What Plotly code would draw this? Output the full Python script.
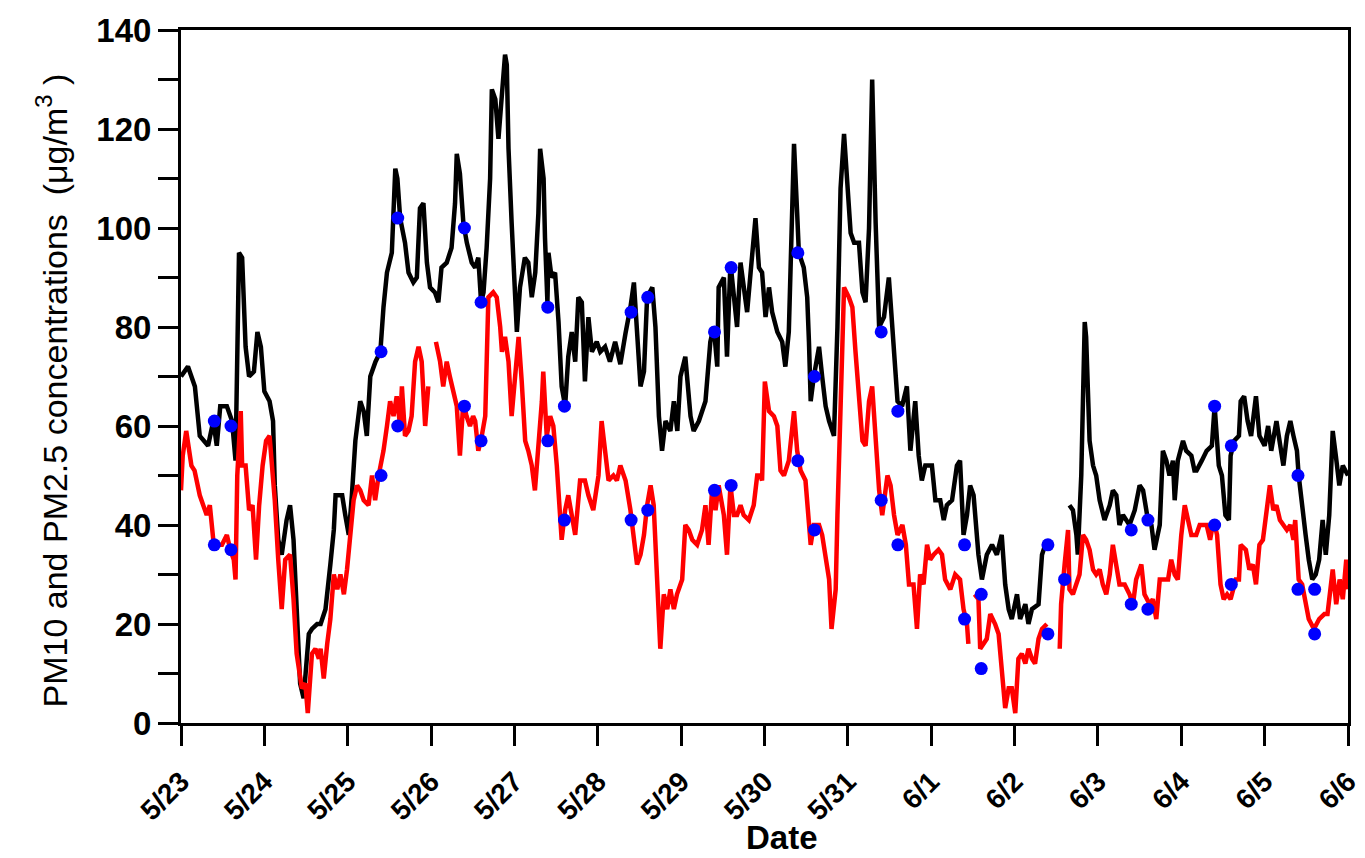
import plotly.graph_objects as go

# ---------------- data ----------------
tick_labels = ["5/23", "5/24", "5/25", "5/26", "5/27", "5/28", "5/29", "5/30",
               "5/31", "6/1", "6/2", "6/3", "6/4", "6/5", "6/6"]

# PM10 (hours since 5/23 00:00, value)
pm10_hours = [0, 2, 4, 5.4, 7.8, 9.3, 10.3, 11.3, 13.2, 14.7, 15.7, 16.2, 16.7, 17.6, 18.1, 18.6,
              19.6, 21, 22, 23, 24, 25.5, 26.5, 27, 28, 29, 30.4, 31.4, 32.4, 33.3, 34.3, 35.3,
              36.8, 37.7, 39.2, 40.2, 41.6, 43, 44, 44.5, 45.4, 46.4, 47.3, 48.3, 49.2, 50.2,
              51.6, 52.6, 53.5, 54.5, 56, 57.4, 58.3, 59.3, 60.7, 61.7, 62.3, 63.1, 64.5, 65.5,
              66.9, 67.9, 68.8, 69.8, 70.8, 71.7, 73.1, 74.1, 75, 76.5, 77.9, 78.9, 79.4, 80.3,
              81.3, 82.3, 83.7, 84.7, 85.6, 86.4, 87.1, 88, 89, 89.5, 90.5, 91.4, 92.4, 93.3,
              93.8, 94.3, 95.2, 96.2, 96.7, 97.6, 99, 100, 101, 102, 102.9, 103.4, 104.4, 104.8,
              105.5, 105.8, 106.7, 107.7, 108.7, 109.6, 110.6, 111.5, 112.5, 113.5, 114.4, 115.4,
              116.3, 117.3, 118.3, 119.7, 120.7, 122.1, 123.5, 125, 126.5, 128, 129.4, 130.4,
              131.3, 132.3, 133.3, 134.2, 135.7, 136.6, 137.6, 138.5, 139.5, 140.9, 141.9, 142.9,
              143.8, 145.2, 146.7, 147.6, 149.1, 151, 152.4, 153.4, 154.4, 154.8, 156.3, 157.2,
              158.2, 159.1, 160.1, 161.1, 162, 163, 164, 165.4, 166.4, 167.3, 168.3, 169.3,
              170.2, 171.7, 173.1, 174, 175, 176, 176.5, 177.4, 177.9, 179.3, 180.3, 180.8,
              181.3, 182.2, 183.7, 184.6, 185.6, 186.6, 188, 189, 189.9, 190.9, 191.8, 192.8,
              193.8, 195.2, 196.2, 197.1, 198.1, 199, 200, 201, 202.4, 203.8, 204.8, 206.3,
              207.6, 209, 210, 211.4, 212.4, 213.3, 214.3, 216.2, 217.2, 218.6, 219.6, 220.5,
              222, 223.4, 224.3, 225.3, 226.3, 227.2, 228.2, 229.6, 230.6, 232, 233.5, 234.9,
              236.3, 237.3, 238.3, 239.2, 240.7, 241.6, 243.1, 244, 245, 246.9, 247.9, 249.3,
              252, 255.8, 256.8, 257.8, 258.2, 259.2, 259.7, 260.2, 260.6, 261.1, 261.6, 262.6,
              263.5, 264.5, 265.9, 267.4, 268.3, 269.3, 270.2, 271.2, 273.1, 274.6, 276, 277,
              278.4, 279.4, 280.3, 281.8, 282.7, 283.7, 284.6, 285.6, 286.1, 287, 288.5, 289.4,
              290.9, 291.8, 292.4, 293.9, 295.3, 296.8, 297.6, 298.8, 299.7, 300.7, 301.7, 302.2,
              303.2, 304.6, 305.1, 306.1, 307.1, 308.1, 309.5, 310.5, 312, 313, 313.9, 315.4,
              316.4, 317.4, 318.4, 319.4, 320.3, 321.3, 321.8, 322.8, 323.8, 324.7, 325.7, 326.7,
              327.7, 328.7, 329.6, 330.6, 331.6, 332.5, 333.5, 334.5, 336]
pm10_values = [70, 72, 68, 58, 56, 61, 56, 64, 64, 61, 53, 76, 95, 94, 83, 76,
               70, 71, 79, 76, 67, 65, 61, 48, 37, 34, 41, 44, 37, 23, 8, 5,
               18, 19, 20, 20, 23, 32, 39, 46, 46, 46, 42, 38, 46, 57,
               65, 63, 58, 70, 73, 75, 84, 91, 95, 112, 110, 102, 97, 91,
               89, 90, 104, 105, 93, 88, 87, 85, 92, 93, 96, 105, 115, 111,
               101, 97, 93, 92, 94, 85, 87, 96, 110, 128, 126, 118, 127, 135,
               133, 116, 101, 83, 79, 88, 94, 93, 86, 91, 103, 116, 110, 98,
               85, 95, 90, 91, 81, 68, 64, 74, 79, 73, 86, 85,
               69, 82, 75, 77, 75, 76, 73, 77, 72.5, 78.8, 84, 89,
               79, 68, 71, 86, 88, 80, 62, 55, 61, 59, 65, 59,
               70, 74, 62, 59, 61, 65, 77, 80, 72, 88, 90, 74,
               93, 86, 80, 93, 88, 83, 91, 102, 92, 91, 82, 88,
               83, 79, 77, 72, 79, 103, 117, 103, 95, 92, 86, 77,
               65, 70, 76, 70, 64, 61, 58, 80, 108, 119, 108, 99,
               97, 97, 87, 85, 100, 130, 101, 80, 82, 90, 80, 65,
               64, 68, 55, 65, 54, 49, 52, 52, 45, 45, 41, 44,
               45, 52, 53, 38, 42, 48, 46, 34, 29, 34, 36, 34,
               38, 28, 23, 21, 26, 21, 24, 20, 23, 24, 34, 37,
               None, 44, 43, 38, 34, 50, 64, 81, 78, 63, 57, 52,
               50, 45, 41, 44, 47, 46, 40, 42, 40, 43, 48, 47,
               41, 40, 35, 40, 55, 53, 50, 53, 45, 53, 57, 55,
               54, 51, 51, 53, 55, 56, 64, 52, 50, 42, 41, 54,
               57, 58, 65, 66, 61, 58, 66, 58, 56, 60, 55, 61,
               57, 52, 58, 61, 58, 55, 50, 43, 38, 33, 29, 30,
               33, 41, 34, 42, 59, 54, 48, 52, 50]

# PM2.5 (hours since 5/23 00:00, value)
pm25_hours = [0, 0.5, 1.5, 2, 3, 3.9, 5.4, 6.4, 7.4, 8.3, 9.3, 10.3, 11.8, 13.2, 14.2, 15.2,
              15.7, 16.2, 17.2, 17.6, 18.6, 19.6, 20.6, 21.6, 22.5, 23.5, 24.5, 25.5, 26.5, 27,
              28, 29, 30, 31.4, 32.4, 33.3, 34.8, 35.8, 36.5, 37.7, 38.7, 39.7, 40.2, 41.1, 42.1,
              43, 44, 45, 45.9, 46.9, 47.8, 48.8, 49.7, 50.7, 51.6, 52.6, 54, 55, 55.9, 56.9,
              58.3, 59.3, 60.2, 61.2, 62.1, 63.1, 63.6, 64.5, 65.5, 66.4, 67.4, 68.4, 69.3, 70.3,
              71.2, 72.3, 73.4, 74.6, 75.5, 76.5, 77.4, 78.4, 79.4, 80.3, 81.3, 82.2, 83.2, 84.1,
              84.7, 85.6, 86.6, 87.6, 88, 88.5, 89.9, 90.9, 91.9, 92.4, 93.3, 94.3, 95.2, 96.2,
              97.2, 98.1, 99.1, 100, 101, 101.9, 102.9, 103.9, 104.3, 104.8, 105.3, 106.3, 107.2,
              108.2, 109.1, 109.6, 110.6, 111.5, 112.5, 113.5, 114.9, 116.3, 117.3, 118.7, 120.2,
              121.1, 122.1, 123.1, 124.5, 125.5, 126.5, 128, 129.4, 130.4, 131.3, 132.3, 133.3,
              134.2, 135.2, 136.1, 137.1, 138, 139, 140, 140.9, 141.9, 142.8, 144.3, 145.2, 146.2,
              147.2, 148.6, 150, 151, 151.9, 152.9, 153.9, 154.8, 156.3, 157.2, 158.2, 159.2,
              160.1, 161.1, 162, 163.5, 164.9, 165.9, 166.8, 167.3, 168.1, 169.3, 170.7, 171.7,
              172.6, 173.6, 175, 176.5, 177.4, 178.4, 179.8, 180.8, 181.3, 182.2, 183.7, 184.6,
              185.6, 186.6, 187.3, 188.5, 189, 189.9, 190.9, 192.3, 193.3, 194.2, 195.2, 196.2,
              197.1, 198.1, 199, 200, 201, 201.9, 203.4, 204.3, 205.3, 206.3, 207.7, 208.7,
              209.6, 210.9, 211.9, 212.8, 213.8, 214.8, 215.7, 216.7, 218.1, 219.1, 220, 221.5,
              222.9, 224.3, 225.3, 226.3, 226.7, 227.5, 228.5, 229.6, 230.1, 231.1, 232, 233,
              234.4, 235.4, 236.3, 237.3, 238.3, 239.2, 240.2, 241.1, 242.1, 243.1, 244, 245,
              245.9, 246.9, 247.9, 249.3, 251, 253, 253.4, 254.4, 255.4, 255.8, 256.8, 258.7,
              259.7, 260.6, 261.6, 262.6, 263.5, 264.5, 265.4, 266.4, 267.4, 268.3, 269.3, 270.2,
              271.7, 273.1, 274.1, 275, 276.5, 277.4, 278.9, 279.8, 280.8, 281.8, 283.2, 284.2,
              285.1, 286.1, 287, 288, 289, 289.9, 290.9, 292.3, 293.3, 295.3, 296.3, 297.3,
              298.3, 299.3, 300.2, 301.2, 302.2, 303.7, 304.6, 305.1, 306.6, 307.6, 308.6, 309.5,
              310.5, 311.5, 312.5, 313.5, 314.5, 315.4, 316.4, 317.4, 318.4, 319.4, 320.3, 320.8,
              321.8, 322.8, 323.8, 324.7, 326.2, 327.7, 329.2, 330.1, 331.6, 332.6, 333.6, 334.5,
              335.5, 336]
pm25_values = [47, 54, 59, 57, 52, 51, 46, 44, 42, 44, 37, 36, 36, 38, 35, 33,
               29, 50, 63, 52, 52, 43, 44, 33, 44, 52, 57, 58, 50, 45,
               33, 23, 33, 34, 25, 14, 7, 8, 2, 14, 15, 13, 15, 9, 16,
               21, 30, 27, 30, 26, 31, 39, 45, 48, 47, 45, 44, 50, 45, 50,
               55, 60, 65, 62, 66, 60, 68, 58, 59, 62, 73, 76, 73, 60,
               68, None, 77, 73, 68, 73, 70, 67, 64, 54, 65, 62, 60, 62,
               61, 55, 58, 62, 78, 86, 87, 86, 80, 75, 78, 73, 62, 71,
               78, 69, 57, 55, 52, 47, 55, 65, 71, 62, 58, 62, 60,
               52, 42, 37, 43, 46, 42, 38, 49, 49, 46, 43, 50,
               61, 55, 49, 50, 49, 52, 49, 43, 38, 32, 34, 38,
               44, 48, 44, 29, 15, 26, 23, 27, 23, 26, 29, 40, 39,
               37, 36, 39, 44, 36, 47, 43, 48, 42, 34, 48, 42,
               42, 44, 42, 41, 44, 50, 50, 49, 69, 63, 62, 60,
               51, 50, 53, 63, 55, 51, 49, 41, 36, 40, 40, 38,
               33, 29, 19, 27, 42, 62, 88, 86, 84, 75, 65, 57,
               56, 65, 68, 57, 47, 42, 50, 48, 42, 38, 40, 36,
               28, 28, 19, 30, 28, 36, 33, 34, 35, 34, 29, 27,
               30, 29, 23, 20, 16, None, 26, 25, 15, 16, 17, 22,
               20, 18, 11, 3, 7, 7, 2, 13, 14, 12, 15, 13,
               12, 17, 19, 20, None, 15, 24, 32, 39, 27, 26, 30,
               38, 37, 35, 31, 30, 31, 28, 26, 30, 36, 31, 28,
               28, 26, 24, 29, 32, 26, 24, 25, 21, 29, 29, 29,
               33, 30, 29, 38, 44, 41, 38, 38, 40, 40, 37, 41,
               38, 28, 25, 26, 25, 29, 29, 36, 35, 31, 32, 28,
               36, 37, 43, 48, 43, 44, 41, 40, 39, 40, 37, 41,
               29, 28, 24, 21, 19, 21, 22, 22, 31, 24, 29, 25,
               33, 27]

# observation points (days since 5/23 00:00)
obs_days = [0.4, 0.6, 2.4, 2.6, 3.4, 3.6, 4.4, 4.6, 5.4, 5.6, 6.4, 6.6, 7.4, 7.6,
            8.4, 8.6, 9.4, 9.6, 10.4, 10.6, 11.4, 11.6, 12.4, 12.6, 13.4, 13.6]
obs_pm10 = [61, 60, 75, 102, 100, 85, 84, 64, 83, 86, 79, 92, 95, 70,
            79, 63, 36, 26, 36, None, 39, 41, 64, 56, 50, 27]
obs_pm25 = [36, 35, 50, 60, 64, 57, 57, 41, 41, 43, 47, 48, 53, 39,
            45, 36, 21, 11, 18, 29, 24, 23, 40, 28, 27, 18]

x_title = "Date"
y_title = "PM10 and PM2.5 concentrations  (μg/m<sup>3</sup> )"

# ---------------- figure ----------------
FONT = "Liberation Sans, Arial, sans-serif"

fig = go.Figure()
fig.add_trace(go.Scatter(x=[h / 24 for h in pm10_hours], y=pm10_values, mode="lines",
                         line=dict(color="black", width=4.5), connectgaps=False,
                         name="PM10", showlegend=False))
fig.add_trace(go.Scatter(x=[h / 24 for h in pm25_hours], y=pm25_values, mode="lines",
                         line=dict(color="#ff0000", width=4.5), connectgaps=False,
                         name="PM2.5", showlegend=False))
fig.add_trace(go.Scatter(x=obs_days + obs_days, y=obs_pm10 + obs_pm25, mode="markers",
                         marker=dict(color="#0000ff", size=13, line=dict(width=0)),
                         name="obs", showlegend=False))

# the page adds an 8 px body margin, so the figure is sized/offset to compensate
fig.update_layout(
    width=1349, height=842,
    margin=dict(l=173, r=9, t=22, b=127),
    paper_bgcolor="white", plot_bgcolor="white",
    font=dict(family=FONT, color="black"),
    annotations=[
        dict(text=x_title, xref="paper", yref="paper", x=0.515, y=-0.1645,
             xanchor="center", yanchor="middle", showarrow=False, height=26,
             font=dict(size=33, weight="bold", family=FONT)),
        dict(text=y_title, xref="paper", yref="paper", x=-0.111, y=0.4805,
             xanchor="center", yanchor="middle", showarrow=False, textangle=-90,
             font=dict(size=34, family=FONT)),
    ],
)
fig.update_xaxes(
    range=[0, 14], tickvals=list(range(len(tick_labels))), ticktext=tick_labels,
    tickangle=-45, tickfont=dict(size=28, weight="bold", family=FONT),
    ticklabeloverflow="allow", ticklabelstandoff=8,
    showline=True, linecolor="black", linewidth=3, mirror=True,
    ticks="outside", ticklen=20, tickwidth=3, tickcolor="black",
    showgrid=False, zeroline=False, automargin=False,
)
fig.update_yaxes(
    range=[0, 140], dtick=20, tick0=0,
    tickfont=dict(size=33, weight="bold", family=FONT),
    showline=True, linecolor="black", linewidth=3, mirror=True,
    ticks="outside", ticklen=20, tickwidth=3, tickcolor="black",
    minor=dict(dtick=10, ticks="outside", ticklen=20, tickwidth=3, tickcolor="black"),
    showgrid=False, zeroline=False, automargin=False,
)

fig.write_html("out.html")
